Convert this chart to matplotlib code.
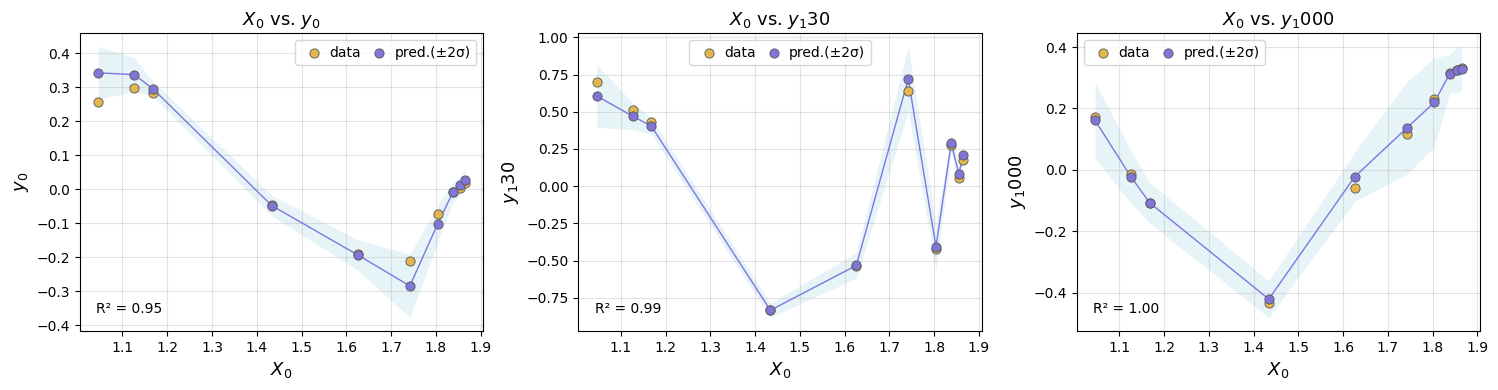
import numpy as np
import matplotlib
matplotlib.use("Agg")
import matplotlib.pyplot as plt

# input feature (shared by all three panels)
x0 = [1.046, 1.126, 1.168, 1.434, 1.626, 1.742, 1.804, 1.838, 1.855, 1.865]

# observed targets
y0_data = [0.258, 0.299, 0.284, -0.047, -0.191, -0.210, -0.073, -0.008, 0.003, 0.019]
y130_data = [0.700, 0.514, 0.431, -0.833, -0.539, 0.640, -0.422, 0.278, 0.054, 0.177]
y1000_data = [0.173, -0.014, -0.107, -0.431, -0.058, 0.116, 0.231, 0.316, 0.326, 0.332]

# model predictions
y0_pred = [0.343, 0.338, 0.296, -0.048, -0.193, -0.284, -0.102, -0.009, 0.012, 0.029]
y130_pred = [0.606, 0.471, 0.404, -0.833, -0.532, 0.720, -0.407, 0.289, 0.083, 0.211]
y1000_pred = [0.161, -0.022, -0.107, -0.420, -0.022, 0.136, 0.220, 0.313, 0.326, 0.330]

# 2 sigma half-widths of the prediction band
y0_2sig = [0.077, 0.050, 0.022, 0.030, 0.045, 0.093, 0.055, 0.030, 0.026, 0.033]
y130_2sig = [0.211, 0.090, 0.054, 0.049, 0.085, 0.217, 0.152, 0.060, 0.060, 0.067]
y1000_2sig = [0.123, 0.085, 0.066, 0.060, 0.080, 0.150, 0.145, 0.062, 0.075, 0.070]

r2_vals = ["0.95", "0.99", "1.00"]
labels = [r"$y_0$", r"$y_1$30", r"$y_1$000"]
titles = [r"$X_0$ vs. $y_0$", r"$X_0$ vs. $y_1$30", r"$X_0$ vs. $y_1$000"]
legend_locs = ["upper right", "upper center", "upper left"]

panels = [(y0_data, y0_pred, y0_2sig),
          (y130_data, y130_pred, y130_2sig),
          (y1000_data, y1000_pred, y1000_2sig)]

fig, axes = plt.subplots(1, 3, figsize=(14.98, 3.9), dpi=100)
plt.subplots_adjust(left=0.0534, right=0.988, top=0.915, bottom=0.151, wspace=0.236)

x = np.array(x0)
for i, ax in enumerate(axes):
    data, pred, sig = [np.array(v) for v in panels[i]]
    # prediction band
    ax.fill_between(x, pred - sig, pred + sig, color="lightblue", alpha=0.3, lw=0)
    ax.plot(x, pred, color="#6a62dc", lw=1, alpha=0.85)
    ax.scatter(x, data, color="#e3b650", edgecolors="#555555", linewidths=0.6,
               s=44, zorder=3, label="data")
    ax.scatter(x, pred, color="#8275d8", edgecolors="#555555", linewidths=0.6,
               s=44, zorder=4, label="pred.(±2σ)")
    ax.set_title(titles[i], fontsize=13)
    ax.set_xlabel(r"$X_0$", fontsize=13)
    ax.set_ylabel(labels[i], fontsize=13)
    ax.grid(True, alpha=0.35)
    ax.set_xticks(np.arange(1.1, 1.95, 0.1))
    ax.text(0.04, 0.06, "R² = " + r2_vals[i], transform=ax.transAxes, fontsize=10)
    ax.legend(loc=legend_locs[i], ncol=2, fontsize=10, handletextpad=0.1,
              columnspacing=0.3)

plt.savefig("out.png", dpi=100)
